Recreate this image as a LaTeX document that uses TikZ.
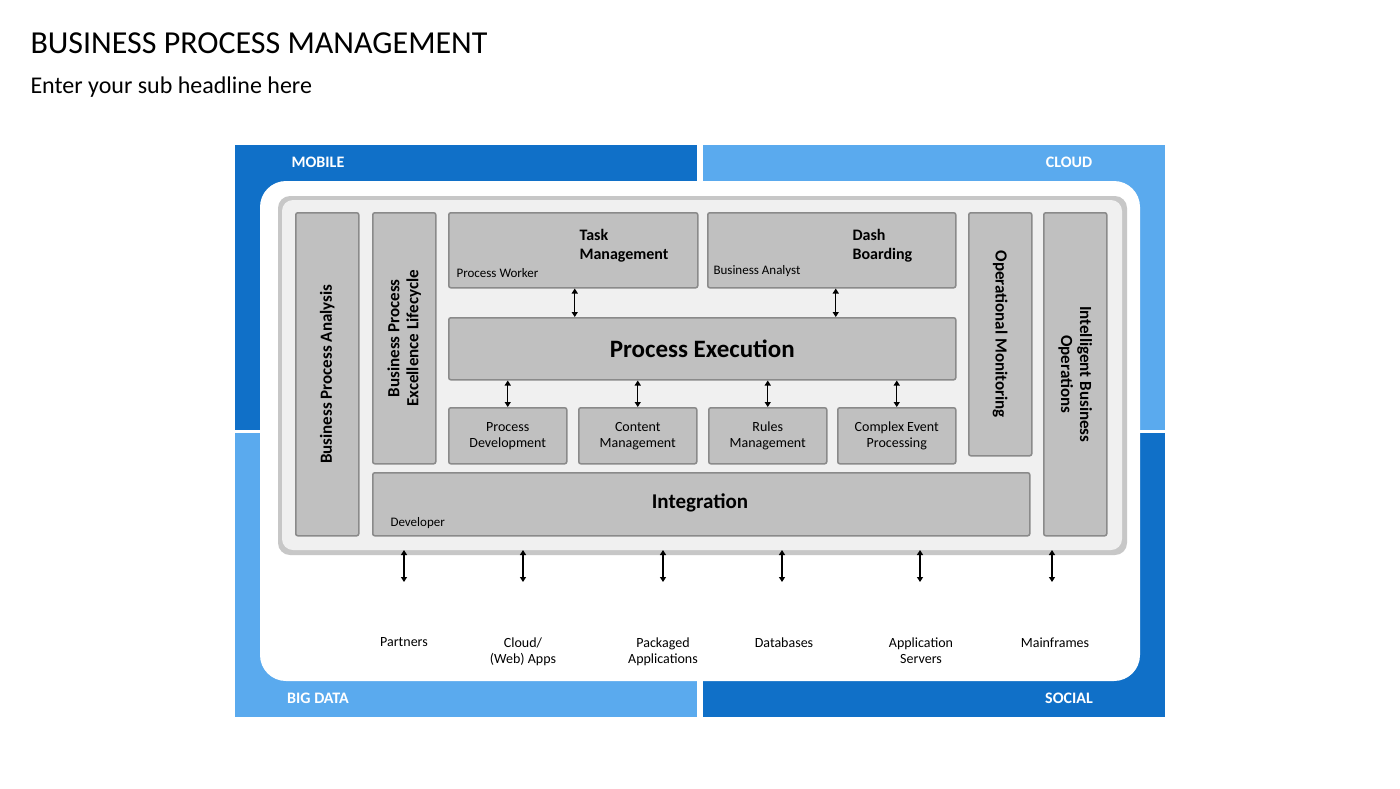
\documentclass[tikz,border=0pt]{standalone}
\usepackage{fontspec}
\setmainfont{Carlito}
\usetikzlibrary{arrows.meta}
\definecolor{dblue}{HTML}{1070C8}
\definecolor{lblue}{HTML}{5AAAEE}
\definecolor{boxg}{HTML}{C0C0C0}
\definecolor{boxd}{HTML}{8A8A8A}
\begin{document}
\begin{tikzpicture}[x=1pt,y=-1pt,
  box/.style={draw=boxd,fill=boxg,line width=1.5pt,rounded corners=2pt,inner sep=0pt,align=center,font=\fontsize{14}{16}\selectfont,anchor=north west},
  vtxt/.style={rotate=-90,font=\bfseries\fontsize{17}{19}\selectfont,align=center},
  arr/.style={{Triangle[length=5pt,width=6pt]}-{Triangle[length=5pt,width=6pt]},line width=1.3pt},
  quad/.style={font=\bfseries\fontsize{16}{18}\selectfont,text=white},
  lab/.style={font=\fontsize{14}{16}\selectfont,align=center,anchor=north},
  small/.style={font=\fontsize{13}{15}\selectfont}]
\useasboundingbox (0,0) rectangle (1400,788);
\fill[white] (0,0) rectangle (1400,788);
\node[anchor=west,font=\fontsize{32}{36}\selectfont] (title) at (27,43) {BUSINESS PROCESS MANAGEMENT};
\node[anchor=west,font=\fontsize{24}{28}\selectfont] (sub) at (27,87) {Enter your sub headline here};
% quadrants
\fill[dblue] (235,145) rectangle (697,430);
\fill[lblue] (703,145) rectangle (1165,430);
\fill[lblue] (235,433) rectangle (697,717);
\fill[dblue] (703,433) rectangle (1165,717);
\node[quad] (mob) at (318,162) {MOBILE};
\node[quad] (cld) at (1069,162) {CLOUD};
\node[quad] (bd) at (318,698) {BIG DATA};
\node[quad] (soc) at (1069,698) {SOCIAL};
\fill[white,rounded corners=26pt] (260,181) rectangle (1140,681);
\fill[black!22,rounded corners=12pt] (278,196) rectangle (1127,555);
\fill[black!6,rounded corners=11pt] (282,200) rectangle (1122,550);
% boxes
\node[box,minimum width=63pt,minimum height=323pt] (bpa) at (295,212) {};
\node[vtxt,rotate=180] at (bpa.center) {Business Process Analysis};
\node[box,minimum width=63pt,minimum height=251pt] (bpel) at (372,212) {};
\node[vtxt,rotate=180] at (bpel.center) {Business Process\\Excellence Lifecycle};
\node[box,minimum width=249pt,minimum height=75pt] (tm) at (448,212) {};
\node[font=\bfseries\fontsize{16}{19}\selectfont,align=left,anchor=north west] at (576,226) {Task\\Management};
\node[small,anchor=west] at (453,273) {Process Worker};
\node[box,minimum width=248pt,minimum height=75pt] (db) at (707,212) {};
\node[font=\bfseries\fontsize{16}{19}\selectfont,align=left,anchor=north west] at (849,226) {Dash\\Boarding};
\node[small,anchor=west] at (710,271) {Business Analyst};
\node[box,minimum width=507pt,minimum height=62pt,font=\bfseries\fontsize{25}{28}\selectfont] (pe) at (448,317) {Process Execution};
\node[box,minimum width=118pt,minimum height=56pt] (pd) at (448,407) {Process\\Development};
\node[box,minimum width=118pt,minimum height=56pt] (cm) at (578,407) {Content\\Management};
\node[box,minimum width=118pt,minimum height=56pt] (rm) at (708,407) {Rules\\Management};
\node[box,minimum width=118pt,minimum height=56pt] (cep) at (837,407) {Complex Event\\Processing};
\node[box,minimum width=63pt,minimum height=243pt] (om) at (968,212) {};
\node[vtxt] at (om.center) {Operational Monitoring};
\node[box,minimum width=63pt,minimum height=323pt] (ibo) at (1043,212) {};
\node[vtxt] at (ibo.center) {Intelligent Business\\Operations};
\node[box,minimum width=657pt,minimum height=63pt] (int) at (372,472) {};
\node[font=\bfseries\fontsize{21}{24}\selectfont] at (700,503) {Integration};
\node[small,anchor=west] at (387,523) {Developer};
% arrows
\draw[arr] ([xshift=1.5pt]tm.south) -- ([xshift=1.5pt]tm.south |- pe.north);
\draw[arr] ([xshift=4pt]db.south) -- ([xshift=4pt]db.south |- pe.north);
\foreach \n in {pd,cm,rm,cep}{\draw[arr] (\n.north |- pe.south) -- (\n.north);}
% bottom labels
\node[lab] (p1) at (404,634) {Partners};
\node[lab] (p2) at (523,634) {Cloud/\\(Web) Apps};
\node[lab] (p3) at (663,634) {Packaged\\Applications};
\node[lab] (p4) at (784,634) {Databases};
\node[lab] (p5) at (921,634) {Application\\Servers};
\node[lab] (p6) at (1055,634) {Mainframes};
\foreach \n/\dx in {p1/0,p2/0,p3/0,p4/-2,p5/-1,p6/-3}{
  \draw[arr] ([xshift=\dx pt,yshift=84pt]\n.north) -- ([xshift=\dx pt,yshift=52pt]\n.north);}
\end{tikzpicture}
\end{document}
